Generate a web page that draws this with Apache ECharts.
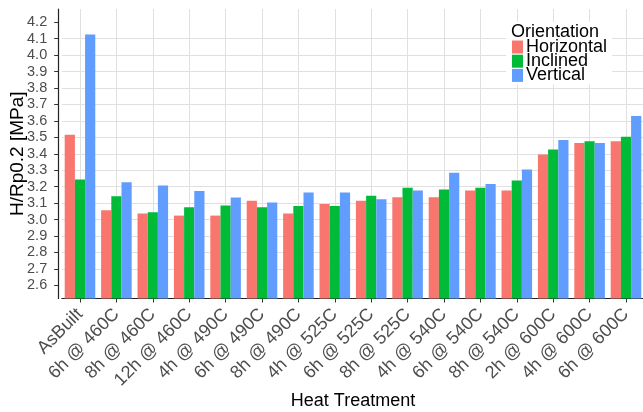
<!DOCTYPE html>
<html><head><meta charset="utf-8">
<script src="https://cdn.jsdelivr.net/npm/echarts@6/dist/echarts.min.js"></script>
<style>html,body{margin:0;padding:0;background:#fff}#c{width:643px;height:412px}</style>
</head><body><div id="c"></div>
<script>
const categories = ["AsBuilt","6h @ 460C","8h @ 460C","12h @ 460C","4h @ 490C","6h @ 490C","8h @ 490C","4h @ 525C","6h @ 525C","8h @ 525C","4h @ 540C","6h @ 540C","8h @ 540C","2h @ 600C","4h @ 600C","6h @ 600C"];
const horizontal = [3.515,3.056,3.036,3.024,3.024,3.115,3.036,3.095,3.115,3.136,3.136,3.176,3.176,3.395,3.466,3.476];
const inclined   = [3.243,3.142,3.044,3.075,3.085,3.075,3.083,3.083,3.144,3.193,3.182,3.194,3.237,3.426,3.476,3.503];
const vertical   = [4.125,3.227,3.207,3.174,3.134,3.103,3.164,3.164,3.124,3.176,3.284,3.216,3.304,3.484,3.466,3.629];
const yTicks = [2.6,2.7,2.8,2.9,3.0,3.1,3.2,3.3,3.4,3.5,3.6,3.7,3.8,3.9,4.0,4.1,4.2];
const seriesNames = ["Horizontal","Inclined","Vertical"];
const colors = ["#F8766D","#00BA38","#619CFF"];

const font = "'Liberation Sans', Arial, sans-serif";
const chart = echarts.init(document.getElementById('c'), null, {renderer:'canvas'});
const dataSets = [horizontal, inclined, vertical];
chart.setOption({
  animation: false,
  textStyle: {fontFamily: font},
  title: {
    text: "Orientation", left: 511, top: 23, padding: 0, z: 10,
    textStyle: {fontFamily: font, fontSize: 18, fontWeight: 'normal', color: '#000', lineHeight: 18}
  },
  legend: {
    orient: 'vertical', left: 506, top: 22,
    padding: [16, 5, 0, 6],
    backgroundColor: '#fff',
    itemWidth: 11, itemHeight: 13, itemGap: -3.8,
    icon: 'rect',
    data: seriesNames,
    textStyle: {fontFamily: font, fontSize: 18, color: '#000', padding: [0,0,0,-2]}
  },
  grid: {left: 61.8, top: 9, width: 582.4, height: 289.5, containLabel: false, outerBoundsMode: 'none'},
  xAxis: {
    type: 'category', data: categories,
    name: 'Heat Treatment', nameLocation: 'middle', nameGap: 94, nameMoveOverlap: false,
    nameTextStyle: {fontFamily: font, fontSize: 18, color: '#000'},
    axisLine: {show: true, lineStyle: {color: '#222', width: 1.2}},
    axisTick: {show: true, alignWithLabel: true, length: 4, lineStyle: {color: '#333'}},
    splitLine: {show: true, alignWithLabel: true, lineStyle: {color: '#e0e0e0', width: 1}},
    axisLabel: {rotate: 45, margin: 13, fontFamily: font, fontSize: 18, color: '#4d4d4d', interval: 0}
  },
  yAxis: {
    type: 'value', min: 2.52, max: 4.28, splitNumber: 17, offset: 3.6,
    name: 'H/Rp0.2 [MPa]', nameLocation: 'middle', nameGap: 31, nameRotate: 90, nameMoveOverlap: false,
    nameTextStyle: {fontFamily: font, fontSize: 19, color: '#000'},
    axisLine: {show: true, lineStyle: {color: '#222', width: 1.2}},
    axisTick: {show: true, length: 4, lineStyle: {color: '#333'}, customValues: yTicks},
    splitLine: {show: true, showMinLine: false, showMaxLine: false, lineStyle: {color: '#e0e0e0', width: 1}},
    axisLabel: {customValues: yTicks, margin: 11,
      fontFamily: font, fontSize: 14.5, color: '#4d4d4d', formatter: v => v.toFixed(1)}
  },
  series: seriesNames.map((n, i) => ({
    name: n, type: 'bar', data: dataSets[i],
    barGap: '0%', barCategoryGap: '16%',
    itemStyle: {color: colors[i]}
  }))
});
</script></body></html>
